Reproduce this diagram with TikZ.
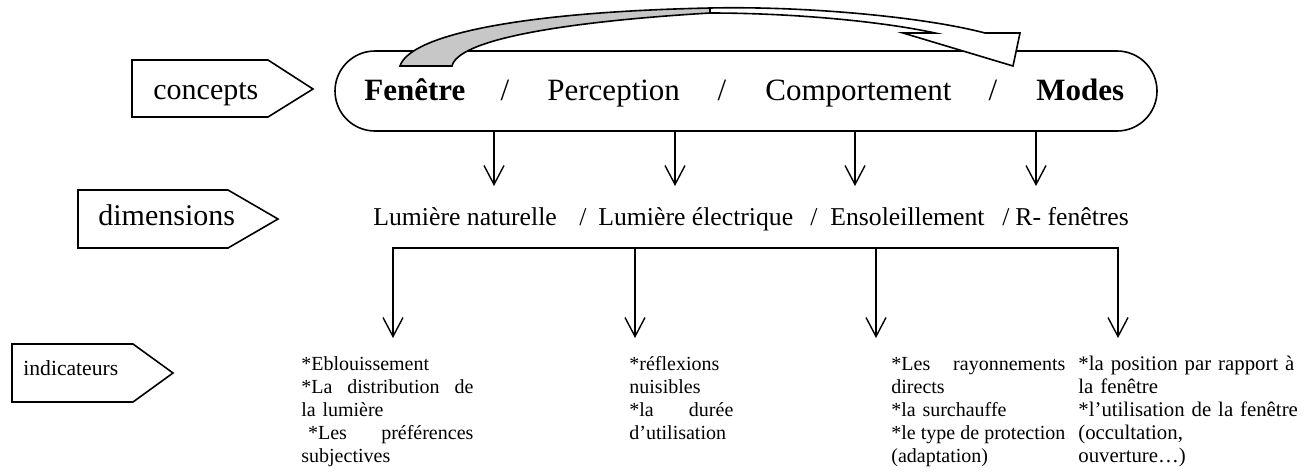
\documentclass[tikz,border=0pt]{standalone}
\usepackage{fontspec}
\setmainfont{Liberation Serif}
\usetikzlibrary{arrows.meta,shapes.misc}
% a line stretched to the full column width
\newcommand\jline[1]{\leavevmode\hbox to\hsize{#1}}
\begin{document}
\begin{tikzpicture}[x=0.5pt,y=-0.5pt,
  >={Straight Barb[length=9.5pt,width=10pt]},
  outline/.style={draw=black,line width=0.8pt,line join=miter},
  tag/.style={outline,fill=white},
  word/.style={inner sep=0pt,anchor=base west},
  slash/.style={inner sep=0pt,anchor=base},
  big/.style={font=\fontsize{15.5}{18}\selectfont},
  bigb/.style={font=\fontsize{15.5}{18}\selectfont\bfseries},
  mid/.style={font=\fontsize{12.85}{15}\selectfont},
  taglbl/.style={word,font=\fontsize{15}{18}\selectfont},
  col/.style={inner sep=0pt,anchor=north west,align=left,font=\fontsize{10}{11.5}\selectfont},
  down/.style={draw=black,line width=0.7pt,->},
]
\useasboundingbox (0,0) rectangle (1315,472);

% level tags on the left
\draw[tag] (132,60) -- (268,60) -- (313,89) -- (268,117) -- (132,117) -- cycle;
\node[taglbl] (tconc) at (153,99) {concepts};
\draw[tag] (78,190) -- (228,190) -- (278,219) -- (228,248) -- (78,248) -- cycle;
\node[taglbl] (tdim) at (98,225) {dimensions};
\draw[tag] (12,344) -- (133,344) -- (173,373) -- (133,402) -- (12,402) -- cycle;
\node[word,font=\fontsize{10.8}{13}\selectfont] (tind) at (23,375) {indicateurs};

% frame holding the four concepts
\node[rounded rectangle,outline,minimum width=411pt,minimum height=40pt,inner sep=0pt] (cbox) at (746,91) {};

% curved ribbon arrow from the first concept to the last one
\filldraw[outline,fill=black!22] (400,66) .. controls (410,35) and (520,12) .. (710,8)
  -- (710,13) .. controls (560,22) and (458,40) .. (452,66) -- cycle;
\filldraw[outline,fill=white] (710,8) .. controls (800,6) and (920,16) .. (985,33)
  -- (1020,33) -- (1013,66) -- (903,33) -- (935,33)
  .. controls (880,21) and (790,13) .. (710,13) -- cycle;

% concepts
\node[word,bigb] (fen) at (364,100) {Fenêtre};
\node[slash,big] (s1) at (505,100) {/};
\node[word,big] (per) at (547,100) {Perception};
\node[slash,big] (s2) at (722,100) {/};
\node[word,big] (com) at (765,100) {Comportement};
\node[slash,big] (s3) at (993,100) {/};
\node[word,bigb] (mod) at (1036,100) {Modes};

% arrows down to the dimensions
\coordinate (d1) at (494,186);
\coordinate (d2) at (675,186);
\coordinate (d3) at (855,186);
\coordinate (d4) at (1036,186);
\foreach \k in {1,...,4} \draw[down] (d\k |- cbox.south) -- (d\k);

% dimensions
\node[word,mid] (n1) at (373,225) {Lumière naturelle};
\node[slash,mid] (m1) at (583,225) {/};
\node[word,mid] (n2) at (598,225) {Lumière électrique};
\node[slash,mid] (m2) at (814,225) {/};
\node[word,mid] (n3) at (830,225) {Ensoleillement};
\node[slash,mid] (m3) at (1006,225) {/};
\node[word,mid] (n4) at (1015,225) {R- fenêtres};

% bracket down to the indicators
\coordinate (b1) at (393,248);
\coordinate (b2) at (635,248);
\coordinate (b3) at (876,248);
\coordinate (b4) at (1118,248);
\coordinate (e1) at (393,338);
\coordinate (e2) at (635,338);
\coordinate (e3) at (876,338);
\coordinate (e4) at (1118,338);
\draw[down,<->] (e1) -- (b1) -- (b4) -- (e4);
\draw[down] (b2) -- (e2);
\draw[down] (b3) -- (e3);

% indicators
\node[col,text width=86pt] (c1) at (301,354)
  {\strut*Eblouissement\\
   \jline{*La\hfil distribution\hfil de}\\
   la lumière\\
   \jline{\ *Les\hfil préférences}\\
   subjectives};
\node[col,text width=52pt] (c2) at (629,354)
  {\strut*réflexions\\
   nuisibles\\
   \jline{*la\hfil durée}\\
   d’utilisation};
\node[col,text width=87pt] (c3) at (891,354)
  {\strut\jline{*Les\hfil rayonnements}\\
   directs\\
   {}*la surchauffe\\
   \jline{*le\hfil type\hfil de\hfil protection}\\
   (adaptation)};
\node[col,text width=118pt,font=\fontsize{10.4}{11.5}\selectfont] (c4) at (1078,354)
  {\strut*la position par rapport à\\
   la fenêtre\\
   {}*l’utilisation de la fenêtre\\
   (occultation,\\
   ouverture…)};
\end{tikzpicture}
\end{document}
